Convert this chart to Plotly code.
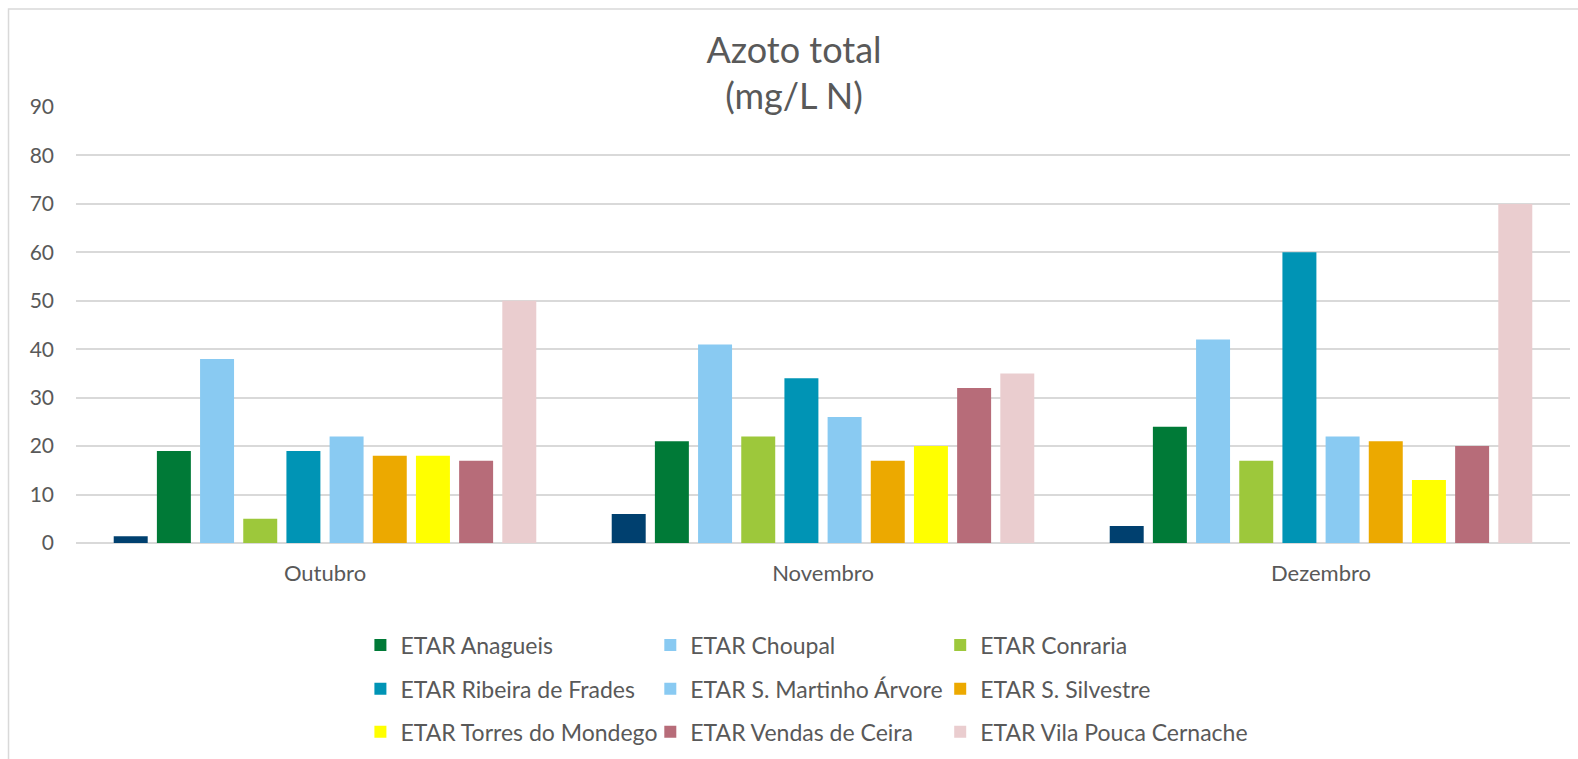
import plotly.graph_objects as go

months = ["Outubro", "Novembro", "Dezembro"]

series_names = [
    "Série 1",
    "ETAR Anagueis",
    "ETAR Choupal",
    "ETAR Conraria",
    "ETAR Ribeira de Frades",
    "ETAR S. Martinho Árvore",
    "ETAR S. Silvestre",
    "ETAR Torres do Mondego",
    "ETAR Vendas de Ceira",
    "ETAR Vila Pouca Cernache",
]

serie_1 = [1.4, 6, 3.5]
anagueis = [19, 21, 24]
choupal = [38, 41, 42]
conraria = [5, 22, 17]
ribeira_frades = [19, 34, 60]
s_martinho = [22, 26, 22]
s_silvestre = [18, 17, 21]
torres_mondego = [18, 20, 13]
vendas_ceira = [17, 32, 20]
vila_pouca = [50, 35, 70]

series_values = [serie_1, anagueis, choupal, conraria, ribeira_frades,
                 s_martinho, s_silvestre, torres_mondego, vendas_ceira, vila_pouca]

colors = ["#00406F", "#007A37", "#89CAF2", "#9DC83B", "#0094B5",
          "#89CAF2", "#ECA900", "#FFFF00", "#B76C79", "#EACDCF"]

FONT = "Lato"
TXT = "#595959"
GRID = "#D9D9D9"

W, H = 1578, 759
L, R, T, B = 75.5, 8, 106.7, 759 - 543.4
PW = W - L - R
PH = H - T - B

# legend grid: 3 columns x 3 rows (pixel anchors of each legend box)
LEG_COLS = [360, 650, 940]
LEG_ROWS = [645.5, 689.5, 732.5]

def px_x(px):
    return (px - L) / PW

def px_y(py):
    return -(py - (H - B)) / PH

fig = go.Figure()
legend_layouts = {}
k = 0
for i, (name, vals, col) in enumerate(zip(series_names, series_values, colors)):
    kw = dict(x=months, y=vals, name=name, marker=dict(color=col, line=dict(width=0)))
    if i == 0:
        kw["showlegend"] = False
    else:
        lname = "legend" if k == 0 else f"legend{k + 1}"
        kw["legend"] = lname
        legend_layouts[lname] = dict(
            x=px_x(LEG_COLS[k % 3]),
            y=px_y(LEG_ROWS[k // 3]),
            xanchor="left",
            yanchor="middle",
            itemwidth=30,
            font=dict(family=FONT, size=23, color=TXT),
            bgcolor="rgba(0,0,0,0)",
            itemclick=False,
            itemdoubleclick=False,
        )
        k += 1
    fig.add_trace(go.Bar(**kw))

fig.update_layout(
    width=W,
    height=H,
    margin=dict(l=L, r=R, t=T, b=B, autoexpand=False),
    paper_bgcolor="white",
    plot_bgcolor="white",
    barmode="group",
    bargap=0.133,
    bargroupgap=0.213,
    title=dict(
        text="Azoto total<br>(mg/L N)",
        x=794 / W,
        xref="container",
        xanchor="center",
        y=1 - 62.5 / H,
        yref="container",
        yanchor="top",
        font=dict(family=FONT, size=36, color=TXT),
    ),
    xaxis=dict(
        showgrid=False,
        showline=False,
        ticks="",
        tickfont=dict(family=FONT, size=22, color=TXT),
        ticklabelstandoff=15,
    ),
    yaxis=dict(
        range=[0, 90],
        dtick=10,
        showgrid=True,
        gridcolor=GRID,
        gridwidth=1.5,
        zeroline=True,
        zerolinecolor=GRID,
        zerolinewidth=1.5,
        showline=False,
        ticks="",
        tickfont=dict(family=FONT, size=21, color=TXT),
        ticklabelstandoff=21,
    ),
    shapes=[
        dict(
            type="rect",
            xref="paper",
            yref="paper",
            x0=(8 - L) / PW,
            x1=(W + 20 - L) / PW,
            y0=-(H + 20 - (H - B)) / PH,
            y1=((H - B) - 8.5) / PH,
            line=dict(color=GRID, width=1.5),
            fillcolor="rgba(0,0,0,0)",
            layer="below",
        )
    ],
    **legend_layouts,
)

fig.write_html(
    "out.html",
    config={"displayModeBar": False},
    post_script="document.body.style.margin='0';document.body.style.overflow='hidden';",
)
